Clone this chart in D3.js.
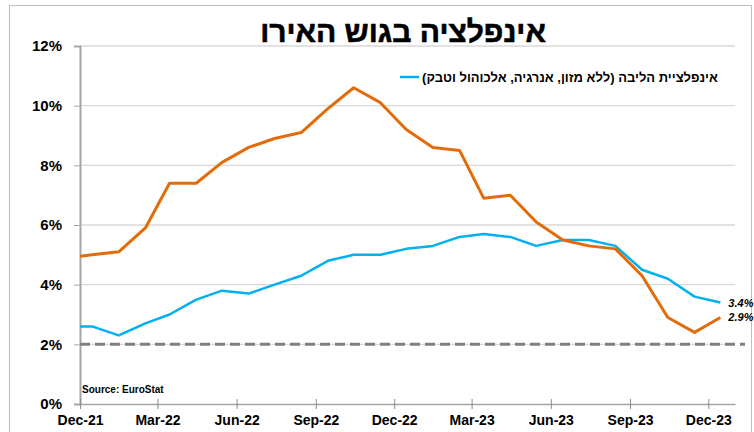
<!DOCTYPE html>
<html>
<head>
<meta charset="utf-8">
<script src="https://cdn.jsdelivr.net/npm/d3@7"></script>
<style>
  body { margin: 0; background: #fff; }
  text { font-family: "Liberation Sans", Arial, sans-serif; }
</style>
</head>
<body>
<div id="chart"></div>
<script>
// monthly data, Nov-21 .. Dec-23
const months = ["2021-11","2021-12","2022-01","2022-02","2022-03","2022-04","2022-05","2022-06","2022-07","2022-08","2022-09","2022-10","2022-11","2022-12",
  "2023-01","2023-02","2023-03","2023-04","2023-05","2023-06","2023-07","2023-08","2023-09","2023-10","2023-11","2023-12"];
const headline = [4.9, 5.0, 5.1, 5.9, 7.4, 7.4, 8.1, 8.6, 8.9, 9.1, 9.9, 10.6, 10.1, 9.2, 8.6, 8.5, 6.9, 7.0, 6.1, 5.5, 5.3, 5.2, 4.3, 2.9, 2.4, 2.9];
const core = [2.6, 2.6, 2.3, 2.7, 3.0, 3.5, 3.8, 3.7, 4.0, 4.3, 4.8, 5.0, 5.0, 5.2, 5.3, 5.6, 5.7, 5.6, 5.3, 5.5, 5.5, 5.3, 4.5, 4.2, 3.6, 3.4];
const xTickLabels = ["Dec-21", "Mar-22", "Jun-22", "Sep-22", "Dec-22", "Mar-23", "Jun-23", "Sep-23", "Dec-23"];
const yTicks = [0, 2, 4, 6, 8, 10, 12];
const target = 2;
const title = "אינפלציה בגוש האירו";
const legendLabel = "אינפלציית הליבה (ללא מזון, אנרגיה, אלכוהול וטבק)";
const source = "Source: EuroStat";

const width = 754, height = 432;
const margin = {left: 80, right: 19, top: 46, bottom: 28};

const parse = d3.timeParse("%Y-%m");
const parseTick = d3.timeParse("%b-%y");
const dates = months.map(m => d3.timeDay.offset(parse(m), 14)); // points sit mid-month
const xTicks = xTickLabels.map(parseTick);

const x = d3.scaleTime()
  .domain([new Date(2021, 11, 1), new Date(2024, 0, 1)])
  .range([margin.left, width - margin.right]);
const y = d3.scaleLinear().domain([0, 12]).range([height - margin.bottom, margin.top]);

const svg = d3.select("#chart").append("svg")
  .attr("width", width)
  .attr("height", height);

// outer frame
svg.append("rect")
  .attr("x", 9.5).attr("y", 5.5)
  .attr("width", 742).attr("height", 440)
  .attr("fill", "none").attr("stroke", "#bfbfbf");

// gridlines
svg.append("g")
  .selectAll("line")
  .data(yTicks.filter(d => d > 0))
  .join("line")
  .attr("x1", margin.left).attr("x2", width - margin.right)
  .attr("y1", d => y(d)).attr("y2", d => y(d))
  .attr("stroke", "#d9d9d9").attr("stroke-width", 1.3);

// y axis
const yAxis = svg.append("g")
  .attr("transform", `translate(${margin.left},0)`)
  .call(d3.axisLeft(y).tickValues(yTicks).tickFormat(d => d + "%").tickSize(6).tickPadding(12));
yAxis.select(".domain").attr("stroke", "#a6a6a6").attr("stroke-width", 2);
yAxis.selectAll(".tick line").attr("stroke", "#a6a6a6");
yAxis.selectAll("text").attr("font-size", 15).attr("font-weight", "bold").attr("fill", "#000");

// x axis
const xAxis = svg.append("g")
  .attr("transform", `translate(0,${y(0)})`)
  .call(d3.axisBottom(x).tickValues(xTicks).tickFormat(d3.timeFormat("%b-%y")).tickSizeInner(5).tickSizeOuter(0).tickPadding(6));
xAxis.select(".domain").attr("stroke", "#a6a6a6").attr("stroke-width", 1.5);
xAxis.selectAll(".tick line").attr("stroke", "#8c8c8c").attr("y1", -5);
xAxis.selectAll("text").attr("font-size", 14).attr("font-weight", "bold").attr("fill", "#000");

// 2% target line
svg.append("line")
  .attr("x1", margin.left).attr("x2", 745)
  .attr("y1", y(target)).attr("y2", y(target))
  .attr("stroke", "#808080").attr("stroke-width", 3)
  .attr("stroke-dasharray", "10,5");

// clip to plot area
svg.append("clipPath").attr("id", "plot")
  .append("rect")
  .attr("x", margin.left).attr("y", 0)
  .attr("width", width - margin.right - margin.left).attr("height", height);

const line = d3.line()
  .x((d, i) => x(dates[i]))
  .y(d => y(d));

const series = [
  {values: core, color: "#00b0f0", w: 2.5, label: "3.4%"},
  {values: headline, color: "#e36c0a", w: 3, label: "2.9%"}
];

svg.append("g")
  .attr("clip-path", "url(#plot)")
  .selectAll("path")
  .data(series)
  .join("path")
  .attr("fill", "none")
  .attr("stroke", d => d.color)
  .attr("stroke-width", d => d.w)
  .attr("stroke-linejoin", "round")
  .attr("d", d => line(d.values));

// end labels
svg.append("g")
  .selectAll("text")
  .data(series)
  .join("text")
  .attr("x", d => x(dates[dates.length - 1]) + 8)
  .attr("y", d => y(d.values[d.values.length - 1]) + 4)
  .attr("font-size", 11)
  .attr("font-weight", "bold")
  .attr("font-style", "italic")
  .attr("fill", "#000")
  .text(d => d.label);

// title
svg.append("text")
  .attr("x", 403).attr("y", 42)
  .attr("text-anchor", "middle")
  .attr("direction", "rtl")
  .attr("font-size", 30)
  .attr("font-weight", "bold")
  .attr("stroke", "#000").attr("stroke-width", 0.6)
  .text(title);

// legend
svg.append("line")
  .attr("x1", 400).attr("x2", 419)
  .attr("y1", 77).attr("y2", 77)
  .attr("stroke", "#00b0f0").attr("stroke-width", 2.5);
svg.append("text")
  .attr("x", 570).attr("y", 81.5)
  .attr("text-anchor", "middle")
  .attr("direction", "rtl")
  .attr("font-size", 13)
  .attr("font-weight", "bold")
  .text(legendLabel);

// source
svg.append("text")
  .attr("x", 82).attr("y", 393)
  .attr("font-size", 10)
  .attr("font-weight", "bold")
  .text(source);
</script>
</body>
</html>
